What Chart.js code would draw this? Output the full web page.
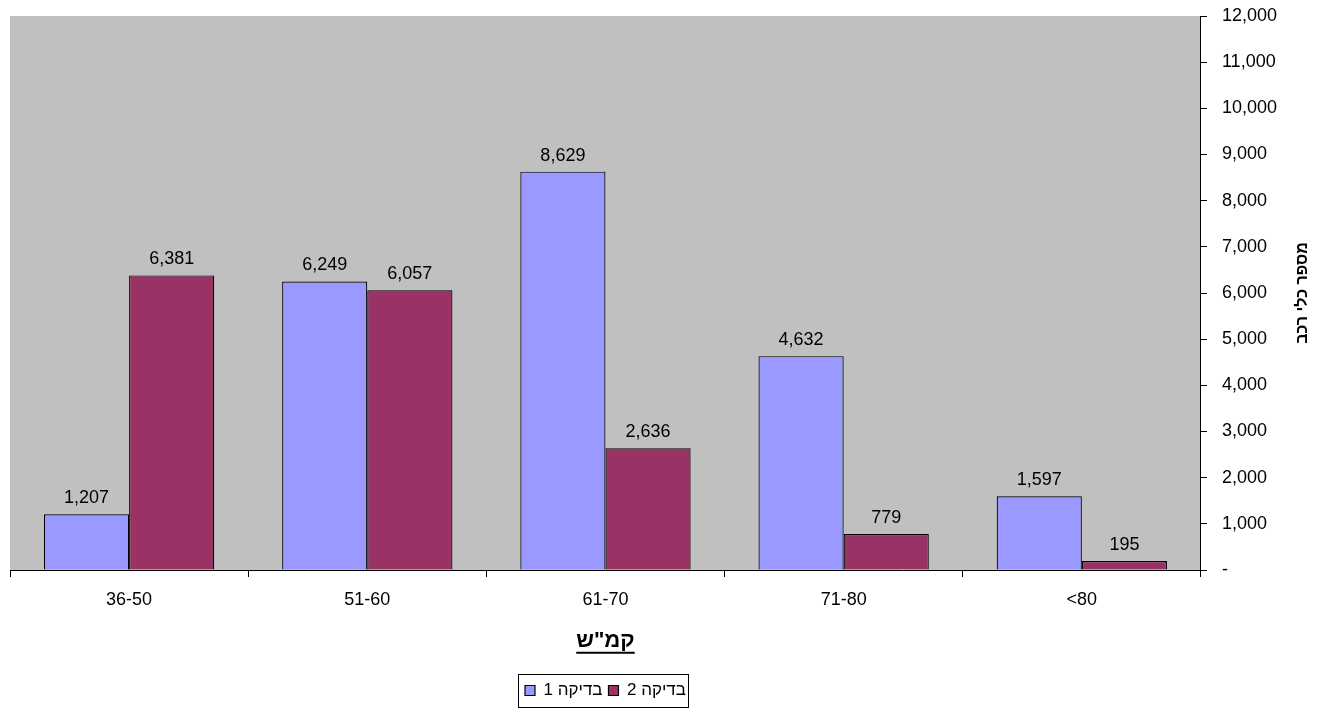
<!DOCTYPE html>
<html>
<head>
<meta charset="utf-8">
<script src="https://cdn.jsdelivr.net/npm/chart.js@4.4.0/dist/chart.umd.min.js"></script>
<style>
  html, body { margin: 0; padding: 0; background: #fff; }
  #wrap { width: 1326px; height: 711px; }
</style>
</head>
<body>
<div id="wrap"><canvas id="grafico"></canvas></div>
<script>
const categorias = ['36-50', '51-60', '61-70', '71-80', '<80'];
const bdika1 = [1207, 6249, 8629, 4632, 1597];
const bdika2 = [6381, 6057, 2636, 779, 195];
const rotulos = ['בדיקה 1', 'בדיקה 2'];
const tituloX = 'קמ"ש';
const tituloY = 'מספר כלי רכב';

const FONTE = "'Liberation Sans', Arial, sans-serif";
const RLE = '\u202B', PDF = '\u202C';

// fundo cinza da área do gráfico + rótulos de valores + títulos
const extras = {
    id: 'extras',
    afterUpdate(chart) {
        // centraliza a legenda sob a área do gráfico
        const leg = chart.legend, a = chart.chartArea;
        const d = (a.left + a.right) / 2 - (leg.left + leg.right) / 2;
        leg.left += d;
        leg.right += d;
        (leg.legendHitBoxes || []).forEach(c => { c.left += d; });
    },
    beforeDraw(chart) {
        const { ctx, chartArea: a } = chart;
        ctx.save();
        ctx.fillStyle = '#C0C0C0';
        ctx.fillRect(a.left, a.top, a.right - a.left, a.bottom - a.top);
        ctx.restore();
    },
    afterDatasetsDraw(chart) {
        const ctx = chart.ctx;
        ctx.save();
        ctx.font = '18px ' + FONTE;
        ctx.fillStyle = '#000';
        ctx.textAlign = 'center';
        ctx.textBaseline = 'bottom';
        chart.data.datasets.forEach((ds, i) => {
            chart.getDatasetMeta(i).data.forEach((bar, j) => {
                ctx.fillText(ds.data[j].toLocaleString('en-US'), bar.x, bar.y - 7);
            });
        });
        ctx.restore();
    },
    afterDraw(chart) {
        const { ctx, chartArea: a } = chart;
        ctx.save();
        // título do eixo Y, girado
        ctx.font = 'bold 16px ' + FONTE;
        ctx.fillStyle = '#000';
        ctx.textAlign = 'center';
        ctx.textBaseline = 'middle';
        ctx.translate(chart.width - 23, (a.top + a.bottom) / 2);
        ctx.rotate(-Math.PI / 2);
        ctx.fillText(RLE + tituloY + PDF, 0, 0);
        ctx.restore();

        // sublinhado do título X
        const sx = chart.scales.x;
        const t = sx.options.title;
        const cy = sx.bottom - t.padding.bottom - 22 * 1.2 / 2;
        ctx.save();
        ctx.font = 'bold 22px ' + FONTE;
        const w = ctx.measureText(tituloX).width;
        const cx = (a.left + a.right) / 2;
        ctx.strokeStyle = '#000';
        ctx.lineWidth = 2;
        ctx.beginPath();
        ctx.moveTo(cx - w / 2, cy + 12);
        ctx.lineTo(cx + w / 2, cy + 12);
        ctx.stroke();

        // moldura da legenda
        const caixas = chart.legend.legendHitBoxes;
        if (caixas && caixas.length) {
            const x0 = Math.min(...caixas.map(c => c.left)) - 7;
            const x1 = Math.max(...caixas.map(c => c.left + c.width)) + 2;
            const y0 = Math.min(...caixas.map(c => c.top)) - 8;
            const y1 = Math.max(...caixas.map(c => c.top + c.height)) + 8;
            ctx.lineWidth = 1;
            ctx.strokeRect(Math.round(x0) + 0.5, Math.round(y0) + 0.5, Math.round(x1 - x0), Math.round(y1 - y0));
        }
        ctx.restore();
    }
};

const ctx = document.getElementById('grafico').getContext('2d');
const grafico = new Chart(ctx, {
    type: 'bar',
    data: {
        labels: categorias,
        datasets: [{
            label: rotulos[0],
            data: bdika1,
            backgroundColor: '#9999FF',
            borderColor: '#000',
            borderWidth: 1.2,
            borderSkipped: 'bottom'
        }, {
            label: rotulos[1],
            data: bdika2,
            backgroundColor: '#993366',
            borderColor: '#000',
            borderWidth: 1.2,
            borderSkipped: 'bottom'
        }]
    },
    options: {
        responsive: true,
        maintainAspectRatio: false,
        animation: false,
        layout: { padding: { left: 10, top: 16, right: 34, bottom: 2 } },
        datasets: { bar: { categoryPercentage: 0.715, barPercentage: 1.0 } },
        plugins: {
            tooltip: { enabled: false },
            legend: {
                position: 'bottom',
                labels: {
                    color: '#000',
                    font: { family: FONTE, size: 17 },
                    boxWidth: 10,
                    boxHeight: 10,
                    padding: 6,
                    generateLabels: (chart) => {
                        const itens = Chart.defaults.plugins.legend.labels.generateLabels(chart);
                        itens.forEach(it => { it.text = RLE + it.text + PDF; });
                        return itens;
                    }
                }
            }
        },
        scales: {
            x: {
                offset: true,
                grid: {
                    offset: true,
                    drawOnChartArea: false,
                    drawTicks: true,
                    tickLength: 7,
                    color: '#000'
                },
                border: { color: '#000', width: 1 },
                ticks: {
                    color: '#000',
                    font: { family: FONTE, size: 18 },
                    padding: 12,
                    maxRotation: 0
                },
                title: {
                    display: true,
                    text: tituloX,
                    color: '#000',
                    font: { family: FONTE, size: 22, weight: 'bold' },
                    padding: { top: 5, bottom: 22 }
                }
            },
            y: {
                position: 'right',
                min: 0,
                max: 12000,
                afterFit: (s) => { s.paddingTop = 0; s.paddingBottom = 0; },
                grid: {
                    drawOnChartArea: false,
                    tickLength: 6,
                    color: '#000'
                },
                border: { color: '#000', width: 1 },
                ticks: {
                    stepSize: 1000,
                    color: '#000',
                    padding: 15,
                    font: { family: FONTE, size: 18 },
                    callback: (v) => v === 0 ? '-' : v.toLocaleString('en-US')
                }
            }
        }
    },
    plugins: [extras]
});
</script>
</body>
</html>
